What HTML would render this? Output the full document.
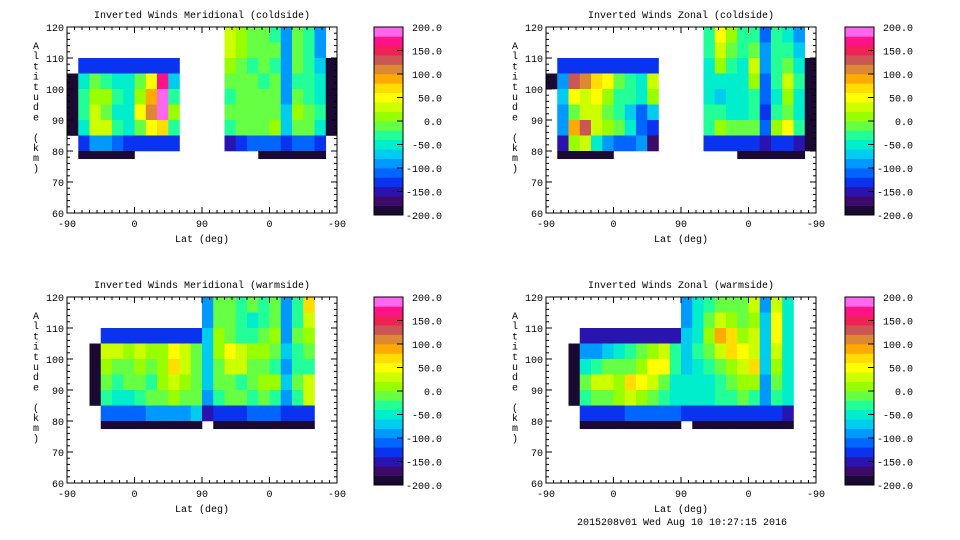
<!DOCTYPE html>
<html><head><meta charset="utf-8"><style>
html,body{margin:0;padding:0;background:#fff;}
svg{display:block;font-family:"Liberation Mono","DejaVu Sans Mono",monospace;font-size:10px;}
</style></head><body>
<svg id="chart" width="960" height="540" viewBox="0 0 960 540"></svg>
<script>
const N = null;
// Altitude bin edges (km) for grid rows
const altEdges = [120,115,110,105,100,95,90,85,80,77.5];
// Column "lat track" bins: 24 columns of 15 units over the -90..0..90..0..-90 track (0..360)
const colWidthUnits = 15;
const xTickLabels = ["-90","0","90","0","-90"];
const xTickUnits = [0,90,180,270,360];
const yTickValues = [60,70,80,90,100,110,120];
const cbarTickValues = [200,150,100,50,0,-50,-100,-150,-200];
const cbarColors = ["#1a0a33","#3d0a6a","#2a14b0","#0a33f0","#0066ff","#0099ff","#00ccee","#00eecc","#22ff99","#66ff44",
                    "#99ff00","#ccff00","#ffff00","#ffdd00","#ffaa00","#dd8833","#cc5555","#ee2255","#ff1188","#ff66ee"];
const panelTitles = ["Inverted Winds Meridional (coldside)","Inverted Winds Zonal (coldside)","Inverted Winds Meridional (warmside)","Inverted Winds Zonal (warmside)"];

const coldMer = [
 [N,N,N,N,N,N,N,N,N,N,N,N,N,N, 30,0,-10,-20,-30,-90,-20,-30,-100, N],
 [N,N,N,N,N,N,N,N,N,N,N,N,N,N, 20,0,-20,-10,-20,-90,-20,-40,-90, N],
 [N, -140,-140,-140,-140,-140,-140,-140,-140,-140, N,N,N,N, 0,-10,-30,-20,-30,-90,-10,-30,-80, -200],
 [-200, -60,-10,-30,-50,-50,-20,40,170,-80, N,N,N,N, -20,-20,-10,-30,-20,-100,-30,-40,-60, -200],
 [-200, -40,10,0,-40,-60,0,80,190,-40, N,N,N,N, -30,-20,-20,-10,-20,-90,-10,-30,-50, -200],
 [-200, -30,20,-10,-50,-50,40,100,180,0, N,N,N,N, -20,-10,-10,-20,-10,-80,10,-20,-40, -200],
 [-200, -60,30,30,-40,-60,-10,40,60,-40, N,N,N,N, -30,-10,-20,-20,0,-70,-10,-10,-50, -200],
 [N, -140,-100,-100,-120,-130,-140,-130,-130,-140, N,N,N,N, -150,-140,-120,-110,-110,-130,-120,-120,-140, N],
 [N, -190,-190,-190,-190,-190, N,N,N,N,N,N,N,N,N,N,N, -190,-190,-190,-190,-190,-190, N]
];
const coldZon = [
 [N,N,N,N,N,N,N,N,N,N,N,N,N,N, -40,40,10,-30,-40,-110,-40,-50,-90, N],
 [N,N,N,N,N,N,N,N,N,N,N,N,N,N, -40,30,-10,-40,-20,-100,-30,-40,-80, N],
 [N, -130,-130,-130,-130,-130,-130,-130,-130,-130, N,N,N,N, -60,0,-30,-60,20,-90,-30,-10,-60, -200],
 [-200, -100,120,100,60,40,-20,-40,-60,30, N,N,N,N, -60,-50,-60,-50,10,-110,-40,30,-40, -200],
 [N, -80,40,30,40,0,-30,-30,-60,10, N,N,N,N, -50,-80,-50,-60,-40,-120,-50,0,-60, -200],
 [N, -90,-20,20,20,-10,-40,-80,-120,-80, N,N,N,N, -30,-40,-50,-50,-30,-130,-30,-20,-50, -200],
 [N, -100,80,120,30,0,-20,-60,-110,-140, N,N,N,N, -30,0,-20,-10,-10,-110,10,40,-40, -200],
 [N, -150,0,20,-60,-100,-110,-120,-100,-180, N,N,N,N, -140,-130,-140,-140,-140,-150,-130,-130,-150, -200],
 [N, -190,-190,-190,-190,-190, N,N,N,N,N,N,N,N,N,N,N, -190,-190,-190,-190,-190,-190, N]
];
const warmMer = [
 [N,N,N,N,N,N,N,N,N,N,N,N, -90,-20,-10,-40,-20,-30,-20,-100,-40,60, N,N],
 [N,N,N,N,N,N,N,N,N,N,N,N, -90,-10,-20,-40,-60,-40,-10,-100,-30,20, N,N],
 [N,N,N, -130,-130,-130,-130,-130,-130,-130,-130,-130, -80,0,-10,-30,-40,-10,0,-90,-20,0, N,N],
 [N,N,-200, 30,20,0,20,0,0,40,30,-10, -80,0,40,30,10,0,-10,-80,-30,-20, N,N],
 [N,N,-200, 10,-10,-20,10,-20,10,70,20,-10, -80,-10,20,20,-10,-20,-30,-90,-40,-30, N,N],
 [N,N,-200, -10,-30,-10,-20,-30,0,20,10,-20, -70,-20,-10,-30,-20,0,10,-80,-20,20, N,N],
 [N,N,-200, -30,-60,-50,-40,-20,-20,0,-10,-10, -100,-30,-20,-10,-30,-20,-30,-90,-30,30, N,N],
 [N,N,N, -110,-120,-120,-110,-100,-90,-90,-90,-80, -150,-130,-140,-130,-120,-120,-120,-130,-130,-140, N,N],
 [N,N,N, -190,-190,-190,-190,-190,-190,-190,-190,-190, N, -190,-190,-190,-190,-190,-190,-190,-190,-190, N,N]
];
const warmZon = [
 [N,N,N,N,N,N,N,N,N,N,N,N, -90,-50,-40,-10,-20,-10,30,-90,30,-60, N,N],
 [N,N,N,N,N,N,N,N,N,N,N,N, -90,-50,-10,30,10,-10,10,-80,50,-60, N,N],
 [N,N,N, -150,-150,-150,-150,-150,-150,-150,-150,-150, -80,-50,10,80,60,0,20,-80,40,-60, N,N],
 [N,N,-200, -100,-90,-80,-60,-40,-20,0,30,-40, -80,-40,-20,30,60,50,30,-80,20,-50, N,N],
 [N,N,-200, -60,-40,-20,-10,-20,10,40,40,-40, -70,-50,-40,-20,10,20,60,-80,0,-50, N,N],
 [N,N,-200, -20,30,20,10,60,50,20,-20,-50, -60,-50,-50,-40,-10,10,10,-90,-20,-60, N,N],
 [N,N,-200, -40,-20,-10,10,20,0,-10,-30,-60, -60,-60,-60,-40,-30,-20,-30,-100,-30,-60, N,N],
 [N,N,N, -130,-130,-130,-130,-120,-120,-120,-120,-110, -140,-140,-140,-140,-130,-130,-130,-130,-140,-150, N,N],
 [N,N,N, -190,-190,-190,-190,-190,-190,-190,-190,-190, N, -190,-190,-190,-190,-190,-190,-190,-190,-190, N,N]
];
const panelData = [coldMer, coldZon, warmMer, warmZon];
const panelNames = ["meridional-coldside","zonal-coldside","meridional-warmside","zonal-warmside"];

const NS = "http://www.w3.org/2000/svg";
const svg = document.getElementById("chart");
function mk(tag, attrs, parent){
  const e = document.createElementNS(NS, tag);
  for (const k in attrs) e.setAttribute(k, attrs[k]);
  (parent||svg).appendChild(e);
  return e;
}
function colorFor(v){
  let i = Math.floor((v + 200) / 20);
  if (i < 0) i = 0; if (i > 19) i = 19;
  return cbarColors[i];
}

const PW = 270, PH = 186;
const origins = [[67,27],[546,27],[67,297],[546,297]];
const cbarX = [374,845];

panelData.forEach((grid, p) => {
  const [x0, y0] = origins[p];
  const xScale = u => x0 + u * PW / 360;
  const yScale = a => y0 + (120 - a) * PH / 60;
  const g = mk("g", {});
  
  

  // cells
  const cells = mk("g", {}, g);
  
  
  grid.forEach((row, r) => {
    row.forEach((v, c) => {
      if (v === null) return;
      const xa = xScale(c * colWidthUnits), xb = xScale((c + 1) * colWidthUnits);
      const ya = yScale(altEdges[r]), yb = yScale(altEdges[r + 1]);
      const rect = mk("rect", {x: xa.toFixed(2), y: ya.toFixed(2), width: (xb - xa + 0.3).toFixed(2), height: (yb - ya + 0.3).toFixed(2), fill: colorFor(v)}, cells);
      
      
    });
  });

  // axes box
  const box = mk("rect", {x: x0, y: y0, width: PW, height: PH, fill: "none", stroke: "#000", "stroke-width": 1}, g);
  
  

  // y ticks
  for (let a = 60; a <= 120; a += 2) {
    const major = a % 10 === 0;
    const L = major ? 6 : 3;
    const y = yScale(a);
    mk("line", {x1: x0, y1: y, x2: x0 + L, y2: y, stroke: "#000"}, g);
    mk("line", {x1: x0 + PW, y1: y, x2: x0 + PW - L, y2: y, stroke: "#000"}, g);
  }
  yTickValues.forEach(a => {
    const t = mk("text", {x: x0 - 3, y: yScale(a) + 4, "text-anchor": "end"}, g);
    t.textContent = String(a);
    
    
  });
  // x ticks
  for (let u = 0; u <= 360; u += 10) {
    const major = u % 90 === 0;
    const L = major ? 6 : 3;
    const x = xScale(u);
    mk("line", {x1: x, y1: y0 + PH, x2: x, y2: y0 + PH - L, stroke: "#000"}, g);
    mk("line", {x1: x, y1: y0, x2: x, y2: y0 + L, stroke: "#000"}, g);
  }
  xTickUnits.forEach((u, i) => {
    const t = mk("text", {x: xScale(u), y: y0 + PH + 14, "text-anchor": "middle"}, g);
    t.textContent = xTickLabels[i];
    
    
  });
  const xt = mk("text", {x: x0 + PW / 2, y: y0 + PH + 29, "text-anchor": "middle"}, g);
  xt.textContent = "Lat (deg)";
  
  

  const tt = mk("text", {x: x0 + PW / 2, y: y0 - 9, "text-anchor": "middle"}, g);
  tt.textContent = panelTitles[p];
  
  

  const yt = mk("text", {x: x0 - 31, y: y0 + 22, "text-anchor": "middle"}, g);
  
  
  "Altitude (km)".split("").forEach((ch, i) => {
    const s = mk("tspan", {x: x0 - 31, y: y0 + 22 + i * 10.2}, yt);
    s.textContent = ch;
  });

  // colorbar
  const cx = cbarX[p % 2], cTop = y0, cH = 188, cW = 29;
  const cb = mk("g", {}, g);
  
  
  const cScale = v => cTop + (200 - v) * cH / 400;
  cbarColors.forEach((col, i) => {
    const vLo = -200 + i * 20;
    const r = mk("rect", {x: cx, y: cScale(vLo + 20), width: cW, height: (cH / 20 + 0.3), fill: col}, cb);
    
    
  });
  mk("rect", {x: cx, y: cTop, width: cW, height: cH, fill: "none", stroke: "#000"}, cb);
  cbarTickValues.forEach(v => {
    const y = cScale(v);
    if (v !== 200 && v !== -200) mk("line", {x1: cx + cW - 6, y1: y, x2: cx + cW, y2: y, stroke: "#000"}, cb);
    const t = mk("text", {x: cx + 68, y: y + 4, "text-anchor": "end"}, cb);
    t.textContent = v.toFixed(1);
    
    
  });
});

const ft = mk("text", {x: 682, y: 525, "text-anchor": "middle"});
ft.textContent = "2015208v01 Wed Aug 10 10:27:15 2016";


</script>
</body></html>
